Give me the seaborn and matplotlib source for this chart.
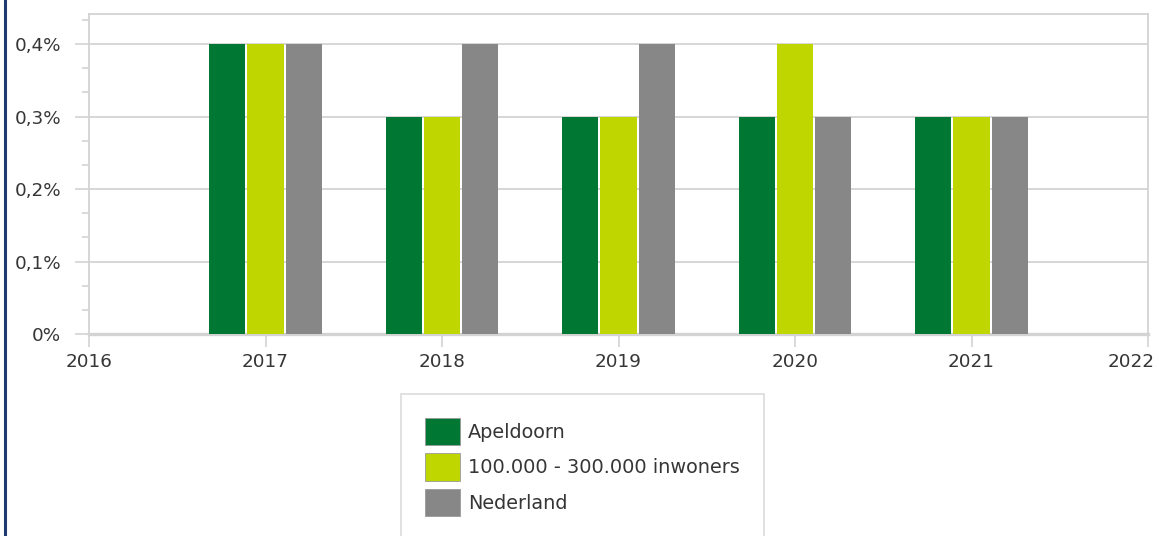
import matplotlib
matplotlib.use("Agg")
import matplotlib.pyplot as plt
from matplotlib.ticker import FuncFormatter, MultipleLocator
from matplotlib.lines import Line2D
from matplotlib.transforms import ScaledTranslation
import seaborn as sns
import pandas as pd

# Share of the population, per year and per region (%)
years = [2017, 2018, 2019, 2020, 2021]
regions = ["Apeldoorn", "100.000 - 300.000 inwoners", "Nederland"]
apeldoorn = [0.4, 0.3, 0.3, 0.3, 0.3]
size_class = [0.4, 0.3, 0.3, 0.4, 0.3]
nederland = [0.4, 0.4, 0.4, 0.3, 0.3]
y_ticks = [0.0, 0.1, 0.2, 0.3, 0.4]
x_ticks = [2016, 2017, 2018, 2019, 2020, 2021, 2022]

palette = ["#007834", "#bfd600", "#878787"]

df = pd.DataFrame({
    "jaar": years * 3,
    "regio": [regions[0]] * 5 + [regions[1]] * 5 + [regions[2]] * 5,
    "waarde": apeldoorn + size_class + nederland,
})

sns.set_style("white")
plt.rcParams["font.family"] = ["DejaVu Sans"]
FS = 13.2
LEG_FS = 13.9

fig = plt.figure(figsize=(11.59, 5.36), dpi=100)
ax = fig.add_axes([89 / 1159, 1 - 334 / 536, (1148 - 89) / 1159, (334 - 14) / 536])

sns.barplot(data=df, x="jaar", y="waarde", hue="regio", hue_order=regions,
            palette=palette, native_scale=True, width=0.65, dodge=True,
            saturation=1, linewidth=0, errorbar=None,
            ax=ax, legend=False, zorder=3)

# leave a thin gap between neighbouring bars
for bar in ax.patches:
    w = bar.get_width()
    nw = w * 0.945
    bar.set_x(bar.get_x() + (w - nw) / 2)
    bar.set_width(nw)

ax.set_xlim(2016, 2022)
ax.set_ylim(0, 0.4415)
ax.set_xticks(x_ticks)
ax.set_xticklabels([str(y) for y in x_ticks])
ax.set_yticks(y_ticks)
ax.yaxis.set_minor_locator(MultipleLocator(0.1 / 3))
ax.yaxis.set_major_formatter(FuncFormatter(
    lambda v, p: "0%" if abs(v) < 1e-9 else f"{v:.1f}%".replace(".", ",")))
ax.set_xlabel("")
ax.set_ylabel("")

grid_c = "#d3d3d3"
ax.yaxis.grid(True, color=grid_c, linewidth=1.3, zorder=0)
ax.set_axisbelow(True)
for side, sp in ax.spines.items():
    sp.set_visible(True)
    sp.set_color(grid_c)
    sp.set_linewidth(1.3)
ax.spines["bottom"].set_linewidth(2.4)

text_c = "#363636"
ax.tick_params(axis="y", which="major", length=10, width=1.2, color=grid_c,
               pad=10, labelsize=FS, labelcolor=text_c, left=True)
ax.tick_params(axis="y", which="minor", length=5, width=1.2, color=grid_c, left=True)
ax.tick_params(axis="x", which="major", length=9, width=1.2, color=grid_c,
               pad=5, labelsize=FS, labelcolor=text_c, bottom=True)

# keep the last year label inside the figure
last = ax.get_xticklabels()[-1]
last.set_horizontalalignment("right")
last.set_transform(last.get_transform() + ScaledTranslation(5 / 72, 0, fig.dpi_scale_trans))

handles = [plt.Rectangle((0, 0), 1, 1, facecolor=c, edgecolor="#9a9a9a", linewidth=0.6)
           for c in palette]
leg = fig.legend(handles, regions, loc="upper left",
                 bbox_to_anchor=(401 / 1159, 1 - 394 / 536),
                 fontsize=LEG_FS, frameon=True, fancybox=False,
                 edgecolor=grid_c, borderpad=1.24, handlelength=1.81,
                 handleheight=1.78, labelspacing=0.44, handletextpad=0.41,
                 borderaxespad=0)
leg.get_frame().set_linewidth(1.2)
for t in leg.get_texts():
    t.set_color(text_c)

# thin navy rule along the left edge
fig.add_artist(Line2D([4.5 / 1159, 4.5 / 1159], [0, 1], color="#1f3a6e",
                      linewidth=2.2, transform=fig.transFigure))

fig.savefig("out.png", dpi=100)
